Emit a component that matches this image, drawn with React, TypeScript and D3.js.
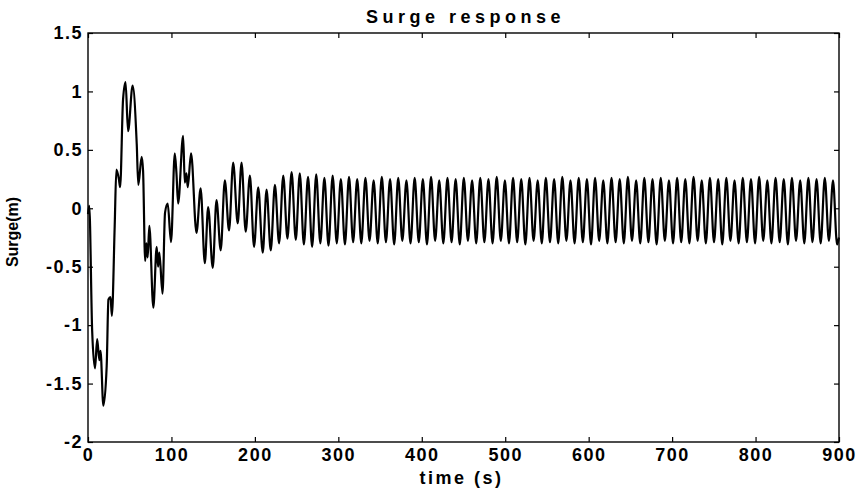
import React, { useEffect, useRef } from 'react'
import * as d3 from 'd3'

// axis ticks (MATLAB style)
const xTicks = [0, 100, 200, 300, 400, 500, 600, 700, 800, 900]
const yTicks = [-2, -1.5, -1, -0.5, 0, 0.5, 1, 1.5]

// [time (s), surge (m)] turning points, start-up part
const transient: [number, number][] = [
  [0, -0.05], [1.5, 0.02], [5, -1.05], [8.4, -1.37], [11, -1.12], [13.6, -1.3], [15, -1.22],
  [18.4, -1.69], [22.4, -1.35], [24.5, -0.78], [27, -0.76], [28.6, -0.92], [32, -0.15],
  [34, 0.33], [37, 0.25], [38.5, 0.18], [42, 0.93], [45, 1.08], [48, 0.66], [53.5, 1.05],
  [58.4, 0.55], [60.3, 0.2], [64.3, 0.44], [66, 0.32], [68.5, -0.45], [70, -0.3],
  [71.5, -0.42], [73.5, -0.15], [78.3, -0.85], [82.3, -0.33], [84, -0.5], [85.5, -0.38],
  [89.3, -0.73], [92.3, -0.04], [95.5, 0.04], [99.5, -0.29], [104, 0.47], [106, 0.3],
  [108, 0.04], [114, 0.62], [116, 0.22], [118, 0.3], [119.5, 0.18], [123.5, 0.47],
  [130, -0.21], [135, 0.17], [140, -0.47], [144, 0.01], [149.5, -0.51], [154, 0.07],
  [159, -0.36], [164, 0.24], [169, -0.19], [174, 0.39], [179.4, -0.13], [184, 0.39],
  [189, -0.2], [194, 0.28], [199, -0.33], [204, 0.18], [209.4, -0.38], [214, 0.16],
  [219, -0.36], [224, 0.2], [229, -0.3], [234, 0.28], [239, -0.26], [244, 0.31], [249, -0.27],
]

// [time (s), surge (m)] turning points, steady oscillation
const steady: [number, number][] = [
  [253.8, 0.30], [258.7, -0.31], [263.7, 0.27], [268.6, -0.33], [273.5, 0.29], [278.4, -0.30],
  [283.3, 0.26], [288.2, -0.32], [293.2, 0.28], [298.1, -0.30], [303.0, 0.25], [307.9, -0.31],
  [312.8, 0.27], [317.7, -0.29], [322.6, 0.25], [327.5, -0.30], [332.5, 0.26], [337.4, -0.28],
  [342.3, 0.24], [347.2, -0.30], [352.1, 0.27], [357.0, -0.29], [362.0, 0.25], [366.9, -0.31],
  [371.8, 0.26], [376.7, -0.28], [381.6, 0.24], [386.5, -0.30], [391.5, 0.26], [396.4, -0.29],
  [401.3, 0.25], [406.2, -0.31], [411.1, 0.27], [416.0, -0.28], [420.9, 0.24], [425.8, -0.30],
  [430.8, 0.26], [435.7, -0.29], [440.6, 0.25], [445.5, -0.31], [450.4, 0.26], [455.3, -0.28],
  [460.3, 0.24], [465.2, -0.30], [470.1, 0.26], [475.0, -0.29], [479.9, 0.25], [484.8, -0.30],
  [489.8, 0.27], [494.7, -0.28], [499.6, 0.24], [504.5, -0.30], [509.4, 0.26], [514.3, -0.29],
  [519.2, 0.25], [524.1, -0.31], [529.1, 0.26], [534.0, -0.28], [538.9, 0.24], [543.8, -0.30],
  [548.7, 0.26], [553.6, -0.29], [558.6, 0.25], [563.5, -0.30], [568.4, 0.27], [573.3, -0.28],
  [578.2, 0.24], [583.1, -0.30], [588.1, 0.26], [593.0, -0.29], [597.9, 0.25], [602.8, -0.31],
  [607.7, 0.26], [612.6, -0.28], [617.5, 0.24], [622.4, -0.30], [627.4, 0.26], [632.3, -0.29],
  [637.2, 0.25], [642.1, -0.30], [647.0, 0.27], [651.9, -0.28], [656.9, 0.24], [661.8, -0.30],
  [666.7, 0.26], [671.6, -0.29], [676.5, 0.25], [681.4, -0.31], [686.4, 0.26], [691.3, -0.28],
  [696.2, 0.24], [701.1, -0.30], [706.0, 0.26], [710.9, -0.29], [715.8, 0.25], [720.7, -0.30],
  [725.7, 0.27], [730.6, -0.28], [735.5, 0.24], [740.4, -0.30], [745.3, 0.26], [750.2, -0.29],
  [755.2, 0.25], [760.1, -0.31], [765.0, 0.26], [769.9, -0.28], [774.8, 0.24], [779.7, -0.30],
  [784.7, 0.26], [789.6, -0.29], [794.5, 0.25], [799.4, -0.30], [804.3, 0.27], [809.2, -0.28],
  [814.1, 0.24], [819.0, -0.30], [824.0, 0.26], [828.9, -0.29], [833.8, 0.25], [838.7, -0.31],
  [843.6, 0.26], [848.5, -0.28], [853.5, 0.24], [858.4, -0.30], [863.3, 0.26], [868.2, -0.29],
  [873.1, 0.25], [878.0, -0.30], [883.0, 0.26], [887.9, -0.28], [892.8, 0.24], [897.7, -0.31],
  [900, -0.25],
]

const FONT = '"Liberation Sans", Arial, Helvetica, sans-serif'

export default function App() {
  const ref = useRef<SVGSVGElement>(null)

  useEffect(() => {
    const W = 856, H = 489
    const margin = { left: 88, top: 33, right: 17, bottom: 47 }
    const width = W - margin.left - margin.right
    const height = H - margin.top - margin.bottom

    const root = d3.select(ref.current)
    root.selectAll('*').remove()
    const svg = root.append('g')
      .attr('transform', `translate(${margin.left},${margin.top})`)

    const x = d3.scaleLinear().domain([0, 900]).range([0, width])
    const y = d3.scaleLinear().domain([-2, 1.5]).range([height, 0])

    const data = transient.concat(steady)
    const line = d3.line<[number, number]>()
      .x(d => x(d[0]))
      .y(d => y(d[1]))
      .curve(d3.curveMonotoneX)

    svg.append('path')
      .attr('d', line(data))
      .attr('fill', 'none')
      .attr('stroke', '#000')
      .attr('stroke-width', 2.2)
      .attr('stroke-linejoin', 'round')

    const fmt = (d: any) => String(d)
    const styleAxis = (g: any, spacing: number) => {
      g.select('.domain').remove()
      g.selectAll('line').attr('stroke', '#000').attr('stroke-width', 1.2)
      g.selectAll('text')
        .attr('fill', '#000')
        .style('font-family', FONT)
        .style('font-size', '18px')
        .style('font-weight', 'bold')
        .style('letter-spacing', spacing + 'px')
    }

    svg.append('g')
      .attr('transform', `translate(0,${height})`)
      .call(d3.axisBottom(x).tickValues(xTicks).tickFormat(fmt).tickSizeInner(-5).tickSizeOuter(0).tickPadding(6))
      .call((g: any) => styleAxis(g, 1.5))
    svg.append('g')
      .call(d3.axisTop(x).tickValues(xTicks).tickFormat(() => '').tickSizeInner(-5).tickSizeOuter(0))
      .call((g: any) => styleAxis(g, 0))
    svg.append('g')
      .call(d3.axisLeft(y).tickValues(yTicks).tickFormat(fmt).tickSizeInner(-5).tickSizeOuter(0).tickPadding(5))
      .call((g: any) => styleAxis(g, 1.5))
    svg.append('g')
      .attr('transform', `translate(${width},0)`)
      .call(d3.axisRight(y).tickValues(yTicks).tickFormat(() => '').tickSizeInner(-5).tickSizeOuter(0))
      .call((g: any) => styleAxis(g, 0))

    // axes box
    svg.append('rect')
      .attr('width', width)
      .attr('height', height)
      .attr('fill', 'none')
      .attr('stroke', '#000')
      .attr('stroke-width', 1.4)

    // title and labels
    root.append('text')
      .attr('x', margin.left + width / 2 + 2)
      .attr('y', 23)
      .attr('text-anchor', 'middle')
      .style('font-family', FONT)
      .style('font-size', '18px')
      .style('font-weight', 'bold')
      .style('letter-spacing', '4.5px')
      .text('Surge response')

    root.append('text')
      .attr('x', margin.left + width / 2 - 2)
      .attr('y', 484)
      .attr('text-anchor', 'middle')
      .style('font-family', FONT)
      .style('font-size', '18px')
      .style('font-weight', 'bold')
      .style('letter-spacing', '2.5px')
      .text('time (s)')

    root.append('text')
      .attr('transform', `translate(18,232) rotate(-90)`)
      .attr('text-anchor', 'middle')
      .style('font-family', FONT)
      .style('font-size', '16px')
      .style('font-weight', 'bold')
      .text('Surge(m)')
  }, [])

  return (
    <svg ref={ref} width={856} height={489}
      style={{ position: 'absolute', left: 0, top: 0, background: '#fff' }} />
  )
}
